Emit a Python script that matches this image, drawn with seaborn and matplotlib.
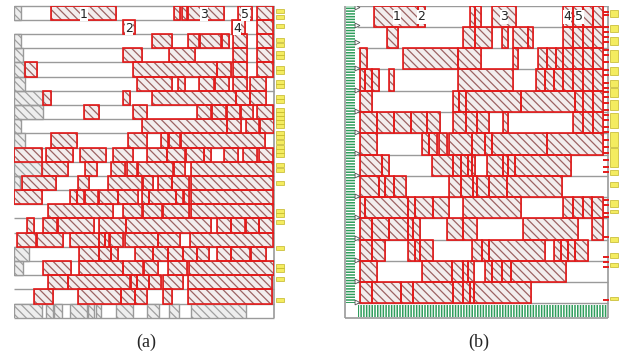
import matplotlib
matplotlib.use("Agg")
import matplotlib.pyplot as plt
import seaborn as sns

# ---- panel (a): 22 machine rows, tasks as (row, start, end) ----
a_red = [
    (0, 37, 102), (0, 160, 166), (0, 168, 173), (0, 174, 210), (0, 224, 238), (0, 243, 259),
    (1, 109, 121), (1, 218, 231), (1, 243, 259),
    (2, 138, 158), (2, 174, 185), (2, 186, 207), (2, 208, 215), (2, 219, 233), (2, 243, 259),
    (3, 109, 128), (3, 155, 181), (3, 219, 233), (3, 243, 259),
    (4, 11, 23), (4, 119, 203), (4, 203, 217), (4, 219, 233), (4, 243, 259),
    (5, 123, 158), (5, 164, 171), (5, 185, 200), (5, 201, 215), (5, 219, 233), (5, 236, 252),
    (6, 29, 37), (6, 109, 116), (6, 138, 222), (6, 222, 236), (6, 236, 252),
    (7, 70, 85), (7, 119, 133), (7, 183, 197), (7, 198, 212), (7, 213, 226), (7, 227, 239), (7, 243, 259),
    (8, 128, 213), (8, 213, 227), (8, 232, 245), (8, 246, 260),
    (9, 37, 63), (9, 114, 133), (9, 147, 154), (9, 155, 166), (9, 167, 251),
    (10, 0, 28), (10, 32, 59), (10, 66, 92), (10, 99, 119), (10, 133, 153), (10, 153, 171),
    (10, 172, 190), (10, 190, 197), (10, 210, 224), (10, 229, 243), (10, 245, 259),
    (11, 28, 54), (11, 71, 83), (11, 97, 111), (11, 113, 123), (11, 124, 159), (11, 160, 171), (11, 177, 259),
    (12, 8, 42), (12, 64, 75), (12, 94, 128), (12, 129, 139), (12, 144, 158), (12, 158, 175), (12, 177, 259),
    (13, 0, 28), (13, 56, 63), (13, 63, 70), (13, 71, 84), (13, 85, 104), (13, 104, 124),
    (13, 128, 135), (13, 135, 162), (13, 162, 169), (13, 170, 175), (13, 177, 259),
    (14, 34, 99), (14, 109, 128), (14, 129, 148), (14, 149, 175), (14, 177, 259),
    (15, 13, 20), (15, 29, 43), (15, 44, 80), (15, 85, 112), (15, 112, 197), (15, 203, 217),
    (15, 217, 231), (15, 232, 245), (15, 245, 259),
    (16, 3, 22), (16, 23, 49), (16, 56, 85), (16, 85, 91), (16, 91, 95), (16, 96, 109),
    (16, 111, 144), (16, 144, 166), (16, 176, 259),
    (17, 65, 85), (17, 85, 97), (17, 97, 104), (17, 121, 139), (17, 139, 154), (17, 154, 169),
    (17, 169, 183), (17, 183, 195), (17, 203, 217), (17, 217, 236), (17, 237, 252),
    (18, 29, 57), (18, 65, 109), (18, 109, 129), (18, 130, 144), (18, 154, 173), (18, 175, 260),
    (19, 34, 54), (19, 54, 116), (19, 117, 123), (19, 123, 135), (19, 135, 147), (19, 149, 169), (19, 174, 258),
    (20, 20, 39), (20, 64, 107), (20, 107, 121), (20, 121, 133), (20, 149, 158), (20, 174, 258),
]
a_gray = [
    (0, 0, 7), (2, 0, 7), (3, 0, 9), (4, 0, 10), (5, 0, 11), (6, 0, 29), (7, 0, 29),
    (8, 0, 7), (9, 0, 11), (11, 0, 28), (12, 0, 6), (17, 0, 15), (18, 0, 9),
    (21, 0, 28), (21, 32, 39), (21, 40, 48), (21, 56, 73), (21, 74, 80), (21, 82, 87),
    (21, 102, 119), (21, 133, 145), (21, 155, 165), (21, 177, 232),
]
a_labels = [("1", 70, 0.6), ("2", 115, 1.6), ("3", 190, 0.6), ("4", 223, 1.6), ("5", 231, 0.6)]
a_yellow = [0.37, 0.80, 1.43, 2.42, 2.77, 3.34, 3.62, 4.39, 4.68, 5.38, 5.66, 6.44, 6.72,
            7.35, 7.64, 7.92, 8.20, 8.48, 8.98, 9.26, 9.61, 9.96, 10.25, 10.53, 11.23,
            11.59, 12.50, 14.48, 14.76, 15.25, 17.09, 18.36, 18.64, 19.27, 20.75]

# ---- panel (b): 14 machine rows ----
b_red = [
    (0, 29, 73), (0, 73, 80), (0, 125, 130), (0, 130, 136), (0, 147, 171),
    (0, 218, 228), (0, 228, 238), (0, 238, 248), (0, 248, 258),
    (1, 42, 53), (1, 118, 130), (1, 130, 147), (1, 157, 163), (1, 168, 183), (1, 183, 188),
    (1, 218, 228), (1, 228, 238), (1, 238, 248), (1, 248, 258),
    (2, 15, 22), (2, 58, 113), (2, 113, 136), (2, 168, 173), (2, 193, 202), (2, 202, 211),
    (2, 211, 218), (2, 218, 228), (2, 228, 238), (2, 238, 248), (2, 248, 258),
    (3, 15, 20), (3, 20, 27), (3, 27, 34), (3, 44, 49), (3, 113, 168), (3, 191, 200),
    (3, 200, 209), (3, 209, 218), (3, 218, 228), (3, 228, 238), (3, 238, 248), (3, 248, 258),
    (4, 15, 27), (4, 108, 114), (4, 114, 121), (4, 121, 176), (4, 176, 230), (4, 230, 238),
    (4, 238, 248), (4, 248, 258),
    (5, 15, 32), (5, 32, 49), (5, 49, 66), (5, 66, 82), (5, 82, 95), (5, 108, 121),
    (5, 121, 132), (5, 132, 144), (5, 158, 163), (5, 228, 238), (5, 238, 248), (5, 248, 258),
    (6, 15, 32), (6, 77, 84), (6, 84, 92), (6, 94, 102), (6, 104, 127), (6, 127, 140),
    (6, 140, 147), (6, 147, 202), (6, 202, 258),
    (7, 15, 37), (7, 37, 44), (7, 87, 108), (7, 108, 116), (7, 116, 123), (7, 123, 127),
    (7, 127, 130), (7, 142, 158), (7, 158, 163), (7, 163, 170), (7, 170, 226),
    (8, 15, 34), (8, 34, 40), (8, 40, 49), (8, 49, 61), (8, 104, 116), (8, 116, 128),
    (8, 128, 132), (8, 132, 144), (8, 144, 162), (8, 162, 217),
    (9, 15, 20), (9, 20, 63), (9, 63, 70), (9, 70, 88), (9, 88, 104), (9, 118, 176),
    (9, 218, 228), (9, 228, 238), (9, 238, 247), (9, 247, 258),
    (10, 15, 27), (10, 27, 44), (10, 44, 63), (10, 63, 68), (10, 68, 75), (10, 102, 118),
    (10, 118, 132), (10, 178, 233), (10, 247, 258),
    (11, 15, 27), (11, 27, 40), (11, 63, 70), (11, 70, 75), (11, 75, 88), (11, 127, 137),
    (11, 137, 144), (11, 144, 200), (11, 209, 216), (11, 216, 223), (11, 223, 230), (11, 230, 243),
    (12, 15, 32), (12, 77, 107), (12, 107, 118), (12, 118, 123), (12, 123, 129), (12, 140, 147),
    (12, 147, 157), (12, 157, 166), (12, 166, 221),
    (13, 15, 27), (13, 27, 56), (13, 56, 68), (13, 68, 108), (13, 108, 118), (13, 118, 125),
    (13, 125, 129), (13, 129, 186),
]
b_labels = [("1", 52, 0.52), ("2", 76.5, 0.52), ("3", 159, 0.52), ("4", 222, 0.52), ("5", 234, 0.52)]
b_yellow = [(0.37, 0.33), (1.07, 0.33), (1.66, 0.38), (2.37, 0.56), (3.07, 0.38), (3.66, 0.33),
            (4.08, 0.42), (4.67, 0.47), (5.40, 0.71), (6.29, 0.71), (7.14, 0.89), (7.85, 0.24),
            (8.41, 0.24), (9.30, 0.33), (9.68, 0.14), (11.0, 0.24), (11.75, 0.24), (12.2, 0.19),
            (13.77, 0.14)]
b_ticks = [0.30, 0.44, 1.00, 1.24, 1.47, 1.71, 2.08, 2.32, 2.65, 3.02, 3.26, 3.64, 3.87, 4.06,
           4.29, 4.58, 4.91, 5.14, 5.38, 5.71, 5.94, 6.32, 6.65, 6.93, 7.26, 7.59, 7.82, 9.14,
           9.38, 9.75, 9.94, 10.88, 11.82, 12.06, 12.29, 13.84]
b_arrows = [0.05, 0.9, 1.7, 2.95, 3.95, 4.95, 5.95, 6.95, 7.95, 8.95, 9.95, 10.95, 11.95, 12.95, 13.95]

sns.set_theme(style="white")
plt.rcParams["font.family"] = ["DejaVu Sans"]
plt.rcParams["hatch.linewidth"] = 0.9

RED = "#e41a1a"
HATCH_RED = "#9c6262"
FACE_RED = "#f3eded"
GRAY = "#9a9a9a"
GREEN = "#2f9d5c"
YELLOW = "#f4ec60"
HATCH = "\\\\\\\\"


def draw_tasks(ax, tasks, face, hcol, edge, lw):
    rows = [t[0] + 0.5 for t in tasks]
    left = [t[1] for t in tasks]
    width = [t[2] - t[1] for t in tasks]
    bars = ax.barh(rows, width, left=left, height=1.0, color=face, zorder=2)
    for p in bars:
        p.set_edgecolor(hcol)
        p.set_linewidth(0.6)
        p.set_hatch(HATCH)
    ax.barh(rows, width, left=left, height=1.0, fill=False, edgecolor=edge,
            linewidth=lw, zorder=3)


def draw_labels(ax, labels):
    for s, x, y in labels:
        ax.text(x, y, s, ha="center", va="center", fontsize=9, color="#222222", zorder=5,
                bbox=dict(fc="white", ec="none", pad=0.4))


fig = plt.figure(figsize=(6.26, 3.58), dpi=100)

# panel (a)
axa = fig.add_axes([14 / 626, 1 - 317.7 / 358, 260 / 626, 312 / 358])
axa.set_xlim(0, 260)
axa.set_ylim(22, 0)
axa.axis("off")
axa.hlines(range(23), 0, 260, color=GRAY, lw=1, zorder=1, clip_on=False)
axa.vlines(260, 0, 22, color=GRAY, lw=1.2, zorder=1, clip_on=False)
draw_tasks(axa, a_gray, "#eeeeee", "#a0a0a0", GRAY, 1.0)
draw_tasks(axa, a_red, FACE_RED, HATCH_RED, RED, 1.2)
draw_labels(axa, a_labels)
axa.barh(a_yellow, 8, left=262, height=0.28, color=YELLOW, edgecolor="#c2b526",
         linewidth=0.5, clip_on=False, zorder=4)

# panel (b)
axb = fig.add_axes([345 / 626, 1 - 318 / 358, 264 / 626, 312.3 / 358])
axb.set_xlim(0, 264)
axb.set_ylim(14.69, 0)
axb.axis("off")
axb.hlines(range(15), 12, 263, color=GRAY, lw=1, zorder=1)
axb.vlines([0, 263], 0, 14.69, color=GRAY, lw=1.2, zorder=1, clip_on=False)
axb.hlines(14.69, 0, 263, color=GRAY, lw=1.2, zorder=1, clip_on=False)
# green bars (left column, bottom strip)
axb.barh(7, 9, left=1, height=14, color=GREEN, edgecolor="white", linewidth=0,
         hatch="------", zorder=2)
axb.barh(14.35, 249, left=13, height=0.54, color=GREEN, edgecolor="white", linewidth=0,
         hatch="||||||", zorder=2)
draw_tasks(axb, b_red, FACE_RED, HATCH_RED, RED, 1.2)
draw_labels(axb, b_labels)
axb.plot([11.5] * len(b_arrows), b_arrows, ls="none", marker=">", ms=3.5,
         mfc="none", mec="#555555", mew=0.6, zorder=4)
axb.hlines(b_ticks, 258, 264, color=RED, lw=1.4, zorder=4, clip_on=False)
axb.barh([r for r, h in b_yellow], 8, left=264.5, height=[h for r, h in b_yellow],
         color=YELLOW, edgecolor="#c2b526", linewidth=0.5, clip_on=False, zorder=4)

fig.text(146 / 626, 1 - 342 / 358, "(a)", ha="center", va="center", fontsize=13,
         family="Liberation Serif")
fig.text(478.5 / 626, 1 - 342 / 358, "(b)", ha="center", va="center", fontsize=13,
         family="Liberation Serif")

fig.savefig("out.png", dpi=100)
